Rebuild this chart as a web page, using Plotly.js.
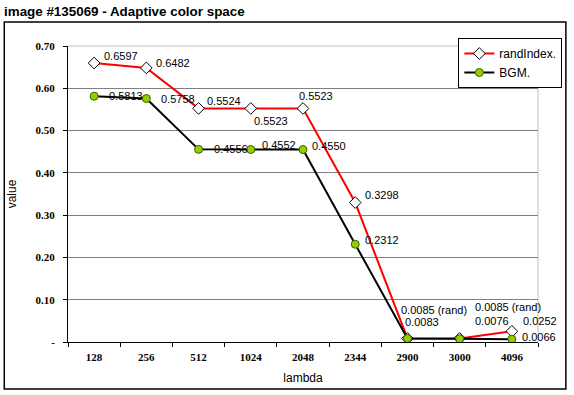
<!DOCTYPE html>
<html>
<head>
<meta charset="utf-8">
<script src="https://cdn.plot.ly/plotly-3.0.1.min.js"></script>
<style>html,body{margin:0;padding:0;background:#fff;}#chart{width:574px;height:395px;}</style>
</head>
<body>
<div id="chart"></div>
<script>
const lambdas = ["128","256","512","1024","2048","2344","2900","3000","4096"];
const randIndex = [0.6597,0.6482,0.5524,0.5523,0.5523,0.3298,0.0085,0.0085,0.0252];
const bgm = [0.5813,0.5758,0.4556,0.4552,0.4550,0.2312,0.0083,0.0076,0.0066];
const randLabels = ["0.6597","0.6482","0.5524","0.5523","0.5523","0.3298","0.0085 (rand)","0.0085 (rand)","0.0252"];
const bgmLabels = ["0.5813","0.5758","0.4556","0.4552","0.4550","0.2312","0.0083","0.0076","0.0066"];
const yTickVals = [0,0.1,0.2,0.3,0.4,0.5,0.6,0.7];
const yTickText = ["-","0.10","0.20","0.30","0.40","0.50","0.60","0.70"];

// label offsets in pixels (styling)
const randOff = [[8,7],[8,5],[6,7],[1,-13],[-6,12],[8,8],[-8,28],[13,31],[9,10]];
const bgmOff = [[13,0],[13,0],[13,0],[9,5],[7,4],[8,4],[-4,16],[13,18],[8,2]];

const traces = [
  {x: lambdas, y: randIndex, name: "randIndex.", type: "scatter", mode: "lines+markers",
   line: {color: "#ff0000", width: 2},
   marker: {symbol: "diamond", size: 9, color: "#ffffff", line: {color: "#000000", width: 1}}},
  {x: lambdas, y: bgm, name: "BGM.", type: "scatter", mode: "lines+markers",
   line: {color: "#000000", width: 2},
   marker: {symbol: "circle", size: 8, color: "#99cc00", line: {color: "#336600", width: 1}}}
];

const annFont = {family: "Liberation Sans, Arial, sans-serif", size: 11, color: "#000"};
const annotations = [];
lambdas.forEach((c, i) => {
  // category axes place annotations by category index
  annotations.push({x: i, y: randIndex[i], xref: "x", yref: "y", text: randLabels[i], showarrow: false,
    xanchor: "left", yanchor: "middle", xshift: randOff[i][0], yshift: randOff[i][1], font: annFont});
  annotations.push({x: i, y: bgm[i], xref: "x", yref: "y", text: bgmLabels[i], showarrow: false,
    xanchor: "left", yanchor: "middle", xshift: bgmOff[i][0], yshift: bgmOff[i][1], font: annFont});
});

const L = 68, R = 540, T = 46, B = 342, W = 574, H = 395;
const px = v => (v - L) / (R - L);
const py = v => (B - v) / (B - T);

const tickFont = {family: "Liberation Serif, Times New Roman, serif", size: 11, color: "#000", weight: "bold"};

const layout = {
  width: W, height: H,
  margin: {l: L, r: W - R, t: T, b: H - B, pad: 0},
  paper_bgcolor: "#ffffff", plot_bgcolor: "#ffffff",
  showlegend: true,
  title: {text: "<b>image #135069 - Adaptive color space</b>", x: 4 / W, xanchor: "left", xref: "container",
    y: 1 - 11 / H, yanchor: "middle", yref: "container",
    font: {family: "Liberation Sans, Arial, sans-serif", size: 13.4, color: "#000"}},
  xaxis: {type: "category", range: [-0.5, 8.5], showgrid: false, zeroline: false,
    showline: true, linecolor: "#000", linewidth: 1,
    ticks: "outside", tickson: "boundaries", ticklen: 4, tickcolor: "#000", ticklabelstandoff: 5,
    tickfont: tickFont, fixedrange: true,
    title: {text: "lambda", standoff: 11, font: {family: "Liberation Sans, Arial, sans-serif", size: 12, color: "#000"}}},
  yaxis: {range: [0, 0.7], tickvals: yTickVals, ticktext: yTickText,
    showgrid: true, gridcolor: "#808080", gridwidth: 1, zeroline: false,
    showline: true, linecolor: "#000", linewidth: 1,
    ticks: "outside", ticklen: 4, tickcolor: "#000", ticklabelstandoff: 6,
    tickfont: tickFont, fixedrange: true,
    title: {text: "value", standoff: 16, font: {family: "Liberation Sans, Arial, sans-serif", size: 12, color: "#000"}}},
  legend: {x: px(460), y: py(38), xanchor: "left", yanchor: "top",
    bgcolor: "#ffffff", bordercolor: "#000", borderwidth: 1,
    font: {family: "Liberation Sans, Arial, sans-serif", size: 12, color: "#000"},
    itemwidth: 30, tracegroupgap: 0},
  annotations: annotations,
  shapes: [
    {type: "rect", xref: "paper", yref: "paper", x0: px(4), x1: px(568), y0: py(389), y1: py(22),
      line: {color: "#000", width: 1.5}, layer: "below"},
    {type: "line", xref: "paper", yref: "paper", x0: 0, x1: 1, y0: 1, y1: 1,
      line: {color: "#c0c0c0", width: 1}, layer: "above"},
    {type: "line", xref: "paper", yref: "paper", x0: 1, x1: 1, y0: 0, y1: 1,
      line: {color: "#c0c0c0", width: 1}, layer: "below"}
  ]
};

Plotly.newPlot("chart", traces, layout, {displayModeBar: false, staticPlot: true});
</script>
</body>
</html>
